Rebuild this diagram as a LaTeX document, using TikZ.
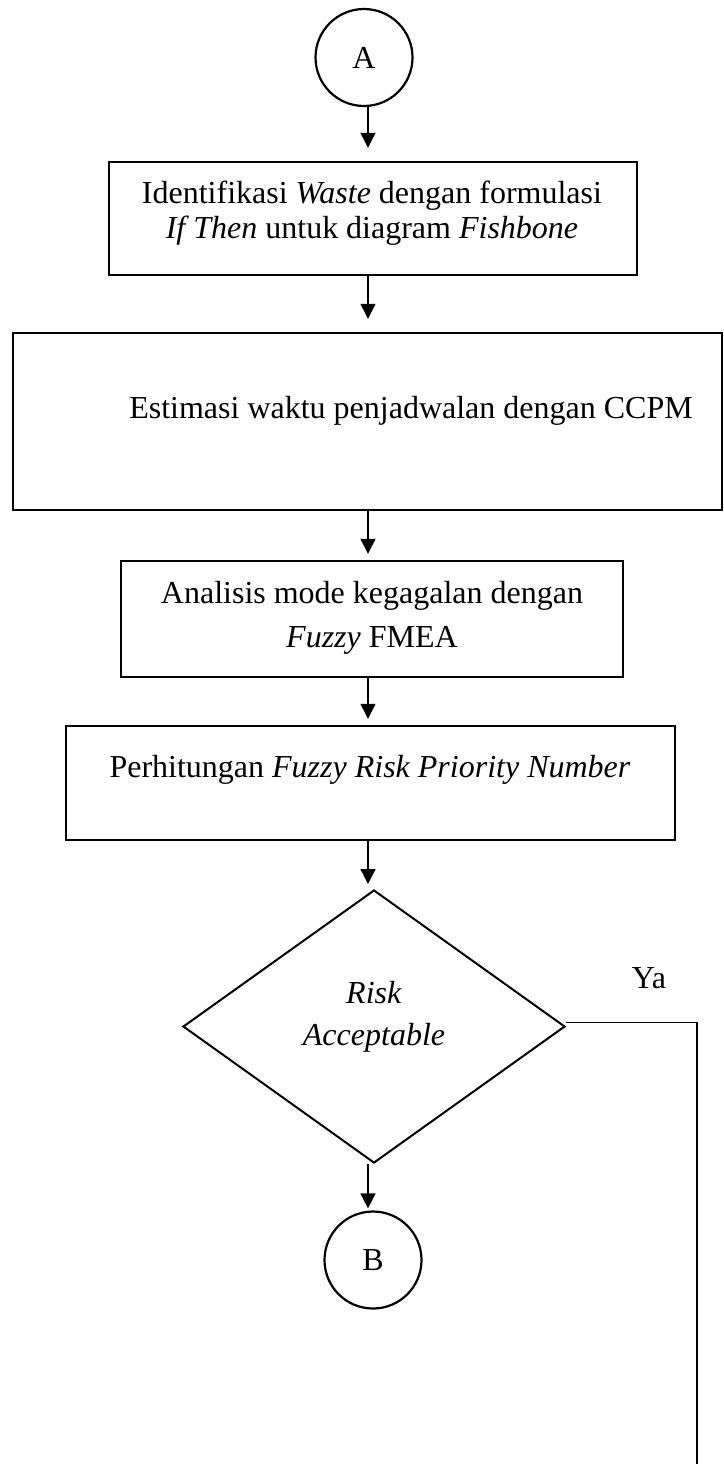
\documentclass[tikz,border=0pt]{standalone}
\usepackage{fontspec}
\setmainfont{Liberation Serif}
\usetikzlibrary{shapes.geometric,arrows.meta}
\begin{document}
\begin{tikzpicture}[x=1pt,y=-1pt,
  box/.style={draw,rectangle,line width=2.4pt,inner sep=0pt},
  conn/.style={circle,draw,line width=2.2pt,minimum size=97pt,inner sep=0pt,font=\fontsize{32}{35}\selectfont},
  decis/.style={diamond,draw,line width=2pt,inner sep=0pt},
  txt/.style={inner sep=0pt,align=center,font=\fontsize{32}{35}\selectfont},
  arr/.style={line width=1.3pt,-{Triangle[width=15pt,length=15pt]}},
  flow/.style={line width=1.5pt}]
\useasboundingbox (0,0) rectangle (723,1464);
\coordinate (ax) at (368,0);
\coordinate (yend) at (697,1464);

\node[conn] (A) at (364,57.5) {A};
\node[box,minimum width=528pt,minimum height=113pt] (b1) at (373,218.5) {};
\node[txt] (t1) at (372,213) {Identifikasi \textit{Waste} dengan formulasi\\\textit{If Then} untuk diagram \textit{Fishbone}};
\node[box,minimum width=709pt,minimum height=177pt] (b2) at (367.5,421.5) {};
\node[txt,anchor=base] (t2) at (411,418) {Estimasi waktu penjadwalan dengan CCPM};
\node[box,minimum width=502pt,minimum height=116pt] (b3) at (372,619) {};
\node[txt,font=\fontsize{32}{44}\selectfont] (t3) at (372,618) {Analisis mode kegagalan dengan\\\textit{Fuzzy} FMEA};
\node[box,minimum width=609pt,minimum height=114pt] (b4) at (370.5,783) {};
\node[txt,anchor=base] (t4) at (370,777.6) {Perhitungan \textit{Fuzzy Risk Priority Number}};
\node[decis,minimum width=382pt,minimum height=273pt] (dia) at (374,1026.5) {};
\node[txt,font=\fontsize{32}{42}\selectfont] (dt) at (374,1017) {\textit{Risk}\\\textit{Acceptable}};
\node[txt,anchor=base] (ya) at (649,988) {Ya};
\node[conn] (B) at (373,1260) {B};

\draw[arr,shorten >=13pt] (A.south -| ax) -- (b1.north -| ax);
\draw[arr,shorten >=13pt] (b1.south -| ax) -- (b2.north -| ax);
\draw[arr,shorten >=6pt] (b2.south -| ax) -- (b3.north -| ax);
\draw[arr,shorten >=6pt] (b3.south -| ax) -- (b4.north -| ax);
\draw[arr,shorten >=5pt] (b4.south -| ax) -- (dia.north -| ax);
\draw[arr,shorten >=2pt] (dia.south -| ax) -- (B.north -| ax);
\draw[flow] ([yshift=4pt]dia.east) -| (yend);
\end{tikzpicture}
\end{document}
